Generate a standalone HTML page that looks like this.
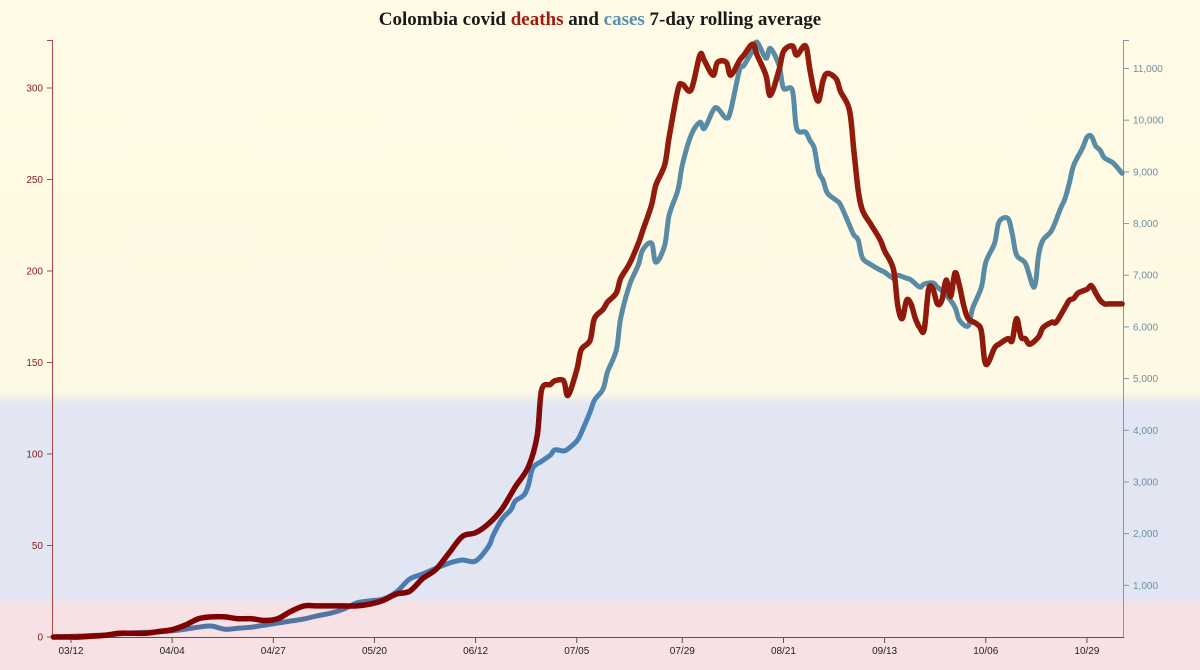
<!DOCTYPE html>
<html><head><meta charset="utf-8"><style>
html,body{margin:0;padding:0;width:1200px;height:670px;overflow:hidden;font-family:"Liberation Sans",sans-serif;}
</style></head><body>
<svg id="chart" width="1200" height="670" viewBox="0 0 1200 670" xmlns="http://www.w3.org/2000/svg">
<defs>
<linearGradient id="bg" x1="0" y1="0" x2="0" y2="670" gradientUnits="userSpaceOnUse">
<stop offset="0" stop-color="#fefae5"/><stop offset="0.585" stop-color="#fdf9e4"/>
<stop offset="0.605" stop-color="#e1e6f2"/><stop offset="0.89" stop-color="#e1e6f2"/>
<stop offset="0.905" stop-color="#f8e1e4"/><stop offset="1" stop-color="#f8e1e4"/>
</linearGradient>
<linearGradient id="gd" x1="0" y1="40" x2="0" y2="637" gradientUnits="userSpaceOnUse">
<stop offset="0" stop-color="#931c0c"/><stop offset="0.58" stop-color="#8e1a0c"/>
<stop offset="0.62" stop-color="#800a0a"/><stop offset="1" stop-color="#800000"/>
</linearGradient>
<linearGradient id="gc" x1="0" y1="40" x2="0" y2="637" gradientUnits="userSpaceOnUse">
<stop offset="0" stop-color="#5a8ba5"/><stop offset="0.58" stop-color="#5a8ba5"/>
<stop offset="0.62" stop-color="#4a80b5"/><stop offset="0.9" stop-color="#4b7db0"/>
<stop offset="1" stop-color="#5472a0"/>
</linearGradient>
</defs>
<rect x="0" y="0" width="1200" height="670" fill="url(#bg)"/>
<text x="600" y="25" text-anchor="middle" font-family="'Liberation Serif',serif" font-weight="bold" font-size="19" fill="#1a1a1a">Colombia covid <tspan fill="#a11a0e">deaths</tspan> and <tspan fill="#5b8fb0">cases</tspan> 7-day rolling average</text>
<g id="axes"></g>
<g id="lines"></g>
</svg>
<script>
const dateTicks = ["03/12","04/04","04/27","05/20","06/12","07/05","07/29","08/21","09/13","10/06","10/29"];
const dateTickDays = [4,27,50,73,96,119,143,166,189,212,235];
const deathTicks = [0,50,100,150,200,250,300];
const caseTicks = [1000,2000,3000,4000,5000,6000,7000,8000,9000,10000,11000];
const deathDays = [0,3,6,9,12,15,18,21,24,27,30,33,36,39,42,45,48,51,54,57,60,63,66,69,72,75,78,81,84,87,90,93,96,99,102,105,108,
110,111,113,114,116,117,119,120,122,123,125,126,128,129,131,133,134,136,137,139,140,142,143,145,147,148,150,151,153,154,156,157,159,160,162,163,165,166,168,169,171,172,173,174,175,176,178,179,181,182,183,184,186,188,189,191,
192,193,194,195,196,197,198,199,200,201,202,203,204,205,206,207,208,210,211,212,214,215,217,218,219,220,221,222,224,225,227,228,230,231,232,233,235,236,237,238,239,240,243];
const deaths = [0,0,0,0.5,1,2,2,2,3,4,6.5,10,11,11,10,10,9,10,14,17,17,17,17,17,18,20,23.5,25,32,37,46,55,57,62,70,82,93,
110,135,138,140,140,132,146,157,162,174,179,183,188,196,204,215,222,236,247,258,273,299,302,299,318,315,307,314,314,307,315,318,324,318,307,296,310,320,323,318,323,310,298,293,304,308,305,298,288,266,244,233,225,217,211,201,
181,174,184,182,174,169,168,190,190,182,184,195,186,199,192,181,174,171,167,149,158,160,163,162,174,164,163,160,164,169,172,172,180,184,185,188,190,192,188,184,182,182,182];
const caseDays = [0,6,12,18,24,27,30,33,36,39,42,45,48,51,54,57,60,63,66,69,72,75,78,81,84,87,90,93,96,99,100,102,104,105,107,108,109,111,113,114,116,117,119,120,122,123,125,126,128,129,131,133,134,136,137,139,140,142,143,145,147,148,150,151,153,154,156,157,159,160,162,163,165,166,168,169,171,172,173,174,175,176,178,179,181,182,183,184,186,188,189,191,192,194,195,197,198,200,201,203,205,206,208,209,211,212,214,215,217,218,219,221,223,224,225,227,229,230,231,232,234,235,236,237,238,239,241,243];
const cases = [0,20,40,80,100,120,150,190,210,150,170,190,230,270,310,350,410,460,540,660,700,735,870,1120,1220,1330,1430,1490,1470,1760,1970,2280,2460,2630,2750,2940,3270,3400,3520,3620,3600,3640,3790,3950,4350,4580,4800,5130,5550,6170,6810,7200,7490,7620,7250,7580,8160,8650,9130,9710,9960,9840,10190,10230,10040,10190,10970,11060,11350,11510,11200,11390,11060,10620,10580,9840,9770,9610,9460,9000,8840,8590,8450,8360,7970,7780,7680,7330,7200,7100,7060,6940,7000,6940,6910,6770,6830,6850,6770,6620,6380,6130,6020,6360,6770,7250,7620,8030,8100,7810,7390,7230,6770,7390,7680,7870,8290,8480,8780,9130,9460,9670,9690,9500,9420,9270,9170,8970];

const NS = "http://www.w3.org/2000/svg";
const x0 = 53.4, pxPerDay = 4.398, yBase = 637;
const xScale = d => x0 + d * pxPerDay;
const yDeath = v => yBase - v * 1.83;
const yCase = v => yBase - v * 0.05168;
function mk(tag, attrs, parent){const e=document.createElementNS(NS,tag);for(const k in attrs)e.setAttribute(k,attrs[k]);parent.appendChild(e);return e;}
const axes = document.getElementById('axes'), lines = document.getElementById('lines');

let la = mk('line',{x1:52.5,y1:40,x2:52.5,y2:637,stroke:'#b04545','stroke-width':1},axes);


mk('line',{x1:47,y1:40.5,x2:52.5,y2:40.5,stroke:'#b04545'},axes);
deathTicks.forEach(v=>{
  const y=yDeath(v);
  mk('line',{x1:47,y1:y,x2:52.5,y2:y,stroke:'#b04545'},axes);
  const t=mk('text',{x:43,y:y+3.5,'text-anchor':'end','font-size':10,fill:'#8b1a1a'},axes);
  t.textContent=v;
  
  
});
let ra = mk('line',{x1:1123.5,y1:40,x2:1123.5,y2:637,stroke:'#7a9ab0','stroke-width':1},axes);


mk('line',{x1:1123.5,y1:40.5,x2:1129,y2:40.5,stroke:'#7a9ab0'},axes);
caseTicks.forEach(v=>{
  const y=yCase(v);
  mk('line',{x1:1123.5,y1:y,x2:1129,y2:y,stroke:'#7a9ab0'},axes);
  const t=mk('text',{x:1133,y:y+3.5,'font-size':10,fill:'#6a8fa8'},axes);
  t.textContent=v.toLocaleString('en-US');
  
  
});
let ba = mk('line',{x1:52,y1:637.5,x2:1124,y2:637.5,stroke:'#555','stroke-width':1},axes);


dateTicks.forEach((lab,i)=>{
  const x=xScale(dateTickDays[i]);
  mk('line',{x1:x,y1:637,x2:x,y2:643,stroke:'#555'},axes);
  const t=mk('text',{x:x,y:654,'text-anchor':'middle','font-size':10,fill:'#222'},axes);
  t.textContent=lab;
  
  
});

function smoothPath(pts){
  let d='M'+pts[0][0].toFixed(1)+','+pts[0][1].toFixed(1);
  for(let i=0;i<pts.length-1;i++){
    const p0=pts[Math.max(0,i-1)],p1=pts[i],p2=pts[i+1],p3=pts[Math.min(pts.length-1,i+2)];
    const t=1/6;
    const c1=[p1[0]+(p2[0]-p0[0])*t,p1[1]+(p2[1]-p0[1])*t];
    const c2=[p2[0]-(p3[0]-p1[0])*t,p2[1]-(p3[1]-p1[1])*t];
    d+=`C${c1[0].toFixed(1)},${c1[1].toFixed(1)} ${c2[0].toFixed(1)},${c2[1].toFixed(1)} ${p2[0].toFixed(1)},${p2[1].toFixed(1)}`;
  }
  return d;
}
const n1 = Math.min(cases.length, caseDays.length);
const cp = mk('path',{d:smoothPath(cases.slice(0,n1).map((v,i)=>[xScale(caseDays[i]),yCase(v)])),fill:'none',stroke:'url(#gc)','stroke-width':5,'stroke-linejoin':'round','stroke-linecap':'round'},lines);


const n2 = Math.min(deaths.length, deathDays.length);
const dp = mk('path',{d:smoothPath(deaths.slice(0,n2).map((v,i)=>[xScale(deathDays[i]),yDeath(v)])),fill:'none',stroke:'url(#gd)','stroke-width':5.5,'stroke-linejoin':'round','stroke-linecap':'round'},lines);


</script>
</body></html>
